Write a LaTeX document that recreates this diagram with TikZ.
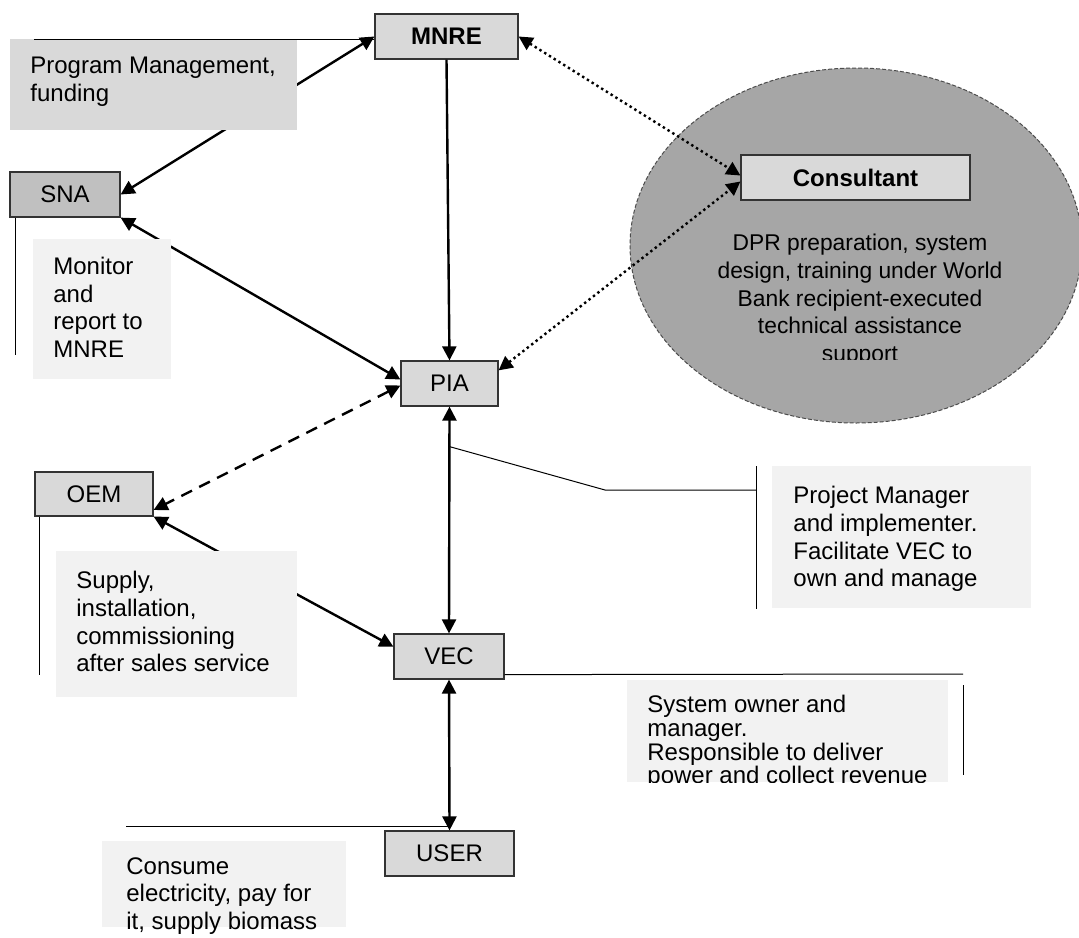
\documentclass[tikz,border=0pt]{standalone}
\usepackage{fontspec}
\setmainfont{Liberation Sans}
\usetikzlibrary{arrows.meta,shapes.geometric,positioning}
\definecolor{boxgray}{HTML}{D9D9D9}
\definecolor{snagray}{HTML}{C0C0C0}
\definecolor{notegray}{HTML}{F2F2F2}
\definecolor{ellgray}{HTML}{A6A6A6}

\begin{document}
\begin{tikzpicture}[>={Triangle[length=7pt,width=7pt]},x=0.5pt,y=-0.5pt,
    font=\fontsize{12pt}{13.8pt}\selectfont]
  \tikzset{agency/.style={draw=black!80,line width=0.6pt,fill=boxgray,inner sep=0pt,minimum height=22.5pt},
    link/.style={line width=1.2pt},
    note/.style={fill=notegray,anchor=north west,inner sep=0pt},
    notetext/.style={anchor=north west,inner sep=0pt,align=left},
    callout/.style={line width=0.5pt}}
  \useasboundingbox (0,0) rectangle (1079,937);

  % consultant area
  \node[ellipse,draw=black!70,fill=ellgray,line width=0.5pt,dash pattern=on 2pt off 1pt,
    minimum width=226pt,minimum height=177.5pt,inner sep=0pt] (ell) at (856,245.5) {};

  \node[agency,minimum width=71.5pt,font=\fontsize{12pt}{13.8pt}\bfseries] (mnre) at (446.5,36.5) {MNRE};
  \node[agency,minimum width=55pt,fill=snagray] (sna) at (65,194.5) {SNA};
  \node[agency,minimum width=48.5pt] (pia) at (449.5,383.5) {PIA};
  \node[agency,minimum width=59pt,minimum height=22pt] (oem) at (94,494) {OEM};
  \node[agency,minimum width=55pt] (vec) at (449,656.5) {VEC};
  \node[agency,minimum width=64.5pt] (user) at (449.5,853.5) {USER};
  \node[agency,minimum width=114.5pt,font=\fontsize{12pt}{13.8pt}\bfseries] (cons) at (855.5,177.5) {Consultant};

  \begin{scope}
    \clip (640,225) rectangle (1075,359);
    \node[align=center,anchor=north,inner sep=0pt,font=\fontsize{11.4pt}{13.8pt}\selectfont] (dpr) at (860,234)
      {DPR preparation, system\\design, training under World\\Bank recipient-executed\\technical assistance\\support};
  \end{scope}

  % arrows
  \path[<->,link] (mnre.west) edge (sna.east)
    (sna.south east) edge ([yshift=2pt]pia.west)
    (pia.south) edge (vec.north)
    (oem.south east) edge (vec.170)
    (vec.south) edge (user.north);
  \draw[->,link] (mnre.south) -- (pia.north);
  \path[<->,link,dash pattern=on 6pt off 4pt] ([yshift=-1pt]pia.west) edge (oem.-15);
  \path[<->,link,dash pattern=on 1.2pt off 1.6pt] (mnre.east) edge ([yshift=1pt]cons.west)
    (pia.15) edge ([yshift=-2pt]cons.west);

  % notes
  \node[note,fill=boxgray,minimum width=143.5pt,minimum height=45.5pt] (pm) at (10,39) {};
  \node[notetext] (pmtext) at ([xshift=10pt,yshift=-9pt]pm.north west) {Program Management,\\funding};
  \node[note,minimum width=69pt,minimum height=70pt] (mon) at (33,239) {};
  \node[notetext] (montext) at ([xshift=10pt,yshift=-9pt]mon.north west) {Monitor\\and\\report to\\MNRE};
  \node[note,minimum width=120.5pt,minimum height=73pt] (sup) at (56,551) {};
  \node[notetext] (suptext) at ([xshift=10pt,yshift=-10pt]sup.north west) {Supply,\\installation,\\commissioning\\after sales service};
  \node[note,minimum width=129.5pt,minimum height=71pt] (proj) at (772,466) {};
  \node[notetext] (projtext) at ([xshift=10.5pt,yshift=-10pt]proj.north west) {Project Manager\\and implementer.\\Facilitate VEC to\\own and manage};
  \node[note,minimum width=160.5pt,minimum height=51pt] (sys) at (627,680) {};
  \begin{scope}
    \clip (sys.north west) rectangle (sys.south east);
    \node[notetext,font=\fontsize{12pt}{11.8pt}\selectfont] (systext) at ([xshift=10pt,yshift=-7.5pt]sys.north west)
      {System owner and\\manager.\\Responsible to deliver\\power and collect revenue};
  \end{scope}
  \node[note,minimum width=122pt,minimum height=43pt] (use) at (102,841) {};
  \node[notetext] (usetext) at ([xshift=12pt,yshift=-8pt]use.north west) {Consume\\electricity, pay for\\it, supply biomass};

  % callout lines
  \draw[callout] ([xshift=12pt]pm.north west) -- (pm.north west -| mnre.west);
  \draw[callout] ([xshift=3.25pt]sna.south west) -- ++(0,137);
  \draw[callout] ([xshift=2.75pt]oem.south west) -- ++(0,158);
  \draw[callout] ([yshift=-20pt]pia.south) -- (605,490) -- (756,490);
  \draw[callout] ([xshift=-8pt]proj.north west) -- ([xshift=-8pt]proj.south west);
  \draw[callout] ([yshift=2.5pt]vec.south east) -- (963,674);
  \draw[callout] ([xshift=7.5pt,yshift=-2.5pt]sys.north east) -- ++(0,90);
  \draw[callout] ([xshift=12pt,yshift=7.5pt]use.north west) -- ([yshift=7.5pt]use.north west -| user.north);
\end{tikzpicture}
\end{document}
